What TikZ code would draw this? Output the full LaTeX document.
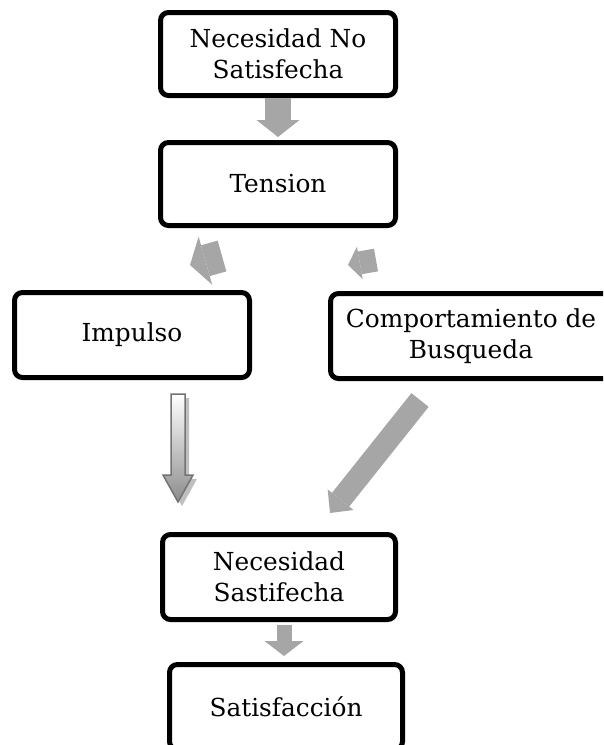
\documentclass[tikz,border=0pt]{standalone}
\usepackage{fontspec}
\setmainfont{DejaVu Serif}
\usetikzlibrary{arrows.meta,shadows,calc}
\definecolor{arrowgray}{RGB}{166,166,166}
\begin{document}
\begin{tikzpicture}[x=1pt,y=-1pt,
        box/.style={draw,line width=5pt,rounded corners=8pt,fill=white,align=center,
            minimum width=235pt,minimum height=85pt,inner sep=0pt,font=\fontsize{24.8}{31}\selectfont},
        blockarrow/.style n args={3}{draw=arrowgray,line width=#1,-{Triangle[width=#2,length=#3,line width=0pt]}},
        hollowarrow/.style={draw=black!55,line width=1.5pt,top color=white,bottom color=black!45,
            drop shadow={shadow xshift=4pt,shadow yshift=-4pt,fill=black!25,opacity=1}}]
    \clip (0,0) rectangle (603,745);
    \node[box,minimum height=83pt] (N1) at (278,54) {Necesidad No\\Satisfecha};
    \node[box,minimum height=83pt] (T) at (278,184) {Tension};
    \node[box] (I) at (132,335) {Impulso};
    \node[box,minimum width=281pt] (C) at (471,336) {Comportamiento de\\Busqueda};
    \node[box,minimum width=233pt] (N2) at (279,577) {Necesidad\\Sastifecha};
    \node[box,minimum width=233pt] (S) at (286,707) {Satisfacción};
    \coordinate (TI) at (222,256);
    \coordinate (TIe) at (190,265);
    \coordinate (TC) at (376,260);
    \coordinate (TCe) at (348,265);
    \coordinate (CN) at (420,400);
    \coordinate (CNe) at (330,513);
    \coordinate (IN) at (178,394);
    \draw[blockarrow={26pt}{43pt}{17pt},shorten >=3pt] (N1) -- (T);
    \draw[blockarrow={32pt}{50pt}{16pt}] (TI) -- (TIe);
    \draw[blockarrow={23pt}{33pt}{12pt}] (TC) -- (TCe);
    \draw[hollowarrow] (IN) ++(-7,0) -- ++(0,81) -- ++(-8,0) -- ++(15,27) -- ++(15,-27) -- ++(-8,0) -- ++(0,-81) -- cycle;
    \draw[blockarrow={22pt}{33pt}{17pt}] (CN) -- (CNe);
    \draw[blockarrow={15pt}{39pt}{15pt},shorten <=3pt,shorten >=6pt] ($(N2.south)+(5,0)$) -- ($(S.north)+(-2,0)$);
\end{tikzpicture}
\end{document}
